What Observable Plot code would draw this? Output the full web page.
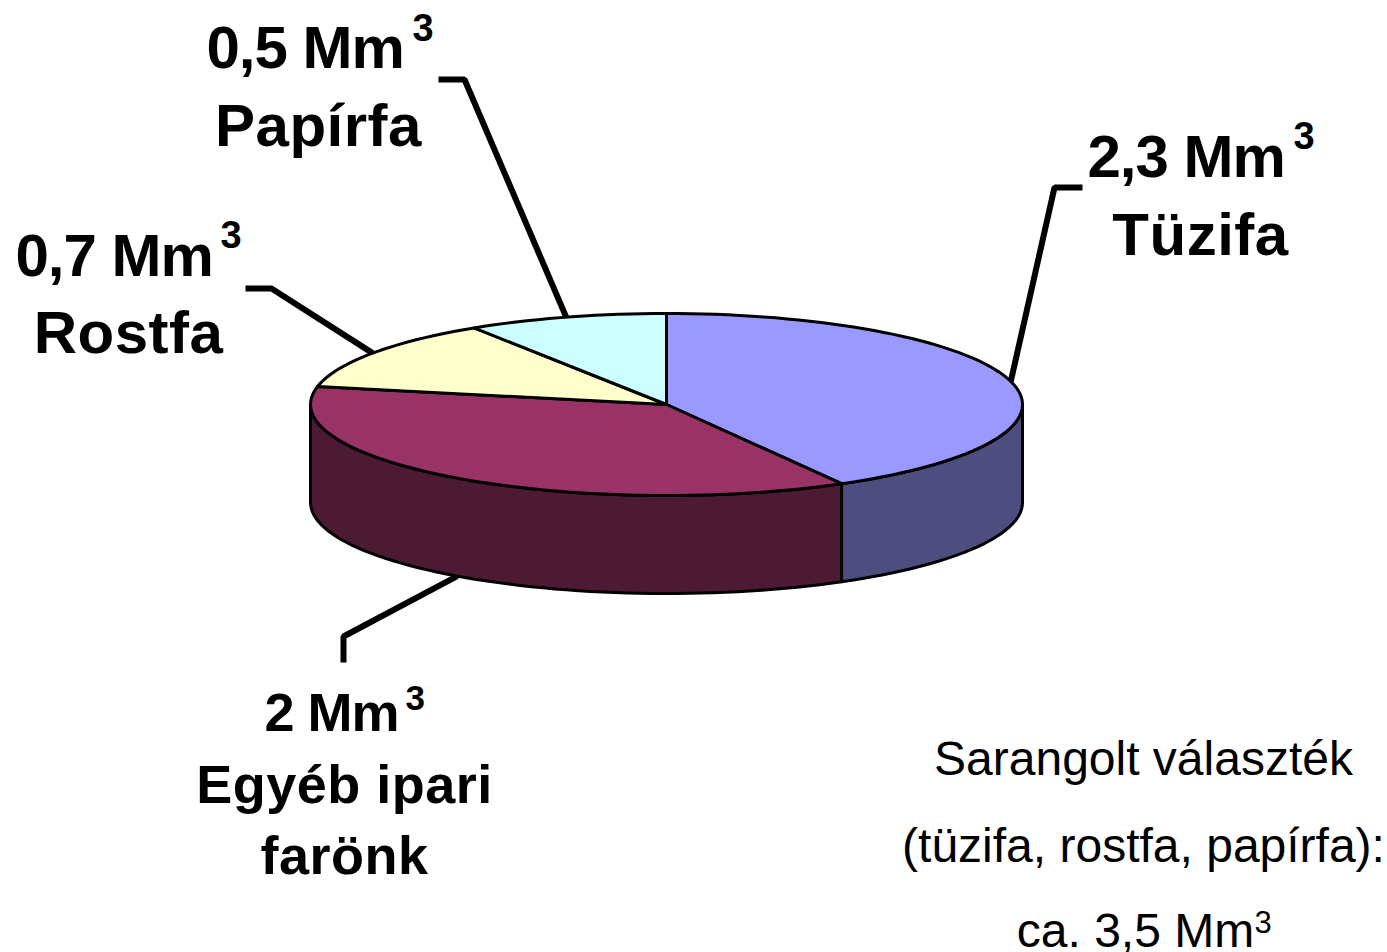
<!DOCTYPE html>
<html lang="hu">
<head>
<meta charset="utf-8">
<title>Sarangolt választék</title>
<script src="https://cdn.jsdelivr.net/npm/d3@7"></script>
<script src="https://cdn.jsdelivr.net/npm/@observablehq/plot@0.6"></script>
<style>
html,body{margin:0;padding:0;background:#fff;}
svg{display:block;}
.tight text{letter-spacing:-1px;}
.loose text{letter-spacing:0.5px;}
</style>
</head>
<body>
<div id="chart"></div>
<script>
// Data
const categories = ["Tüzifa", "Egyéb ipari farönk", "Rostfa", "Papírfa"];
const values = [2.3, 2, 0.7, 0.5];
const amountLabels = ["2,3 Mm", "2 Mm", "0,7 Mm", "0,5 Mm"];
const topColors = ["#9999ff", "#993366", "#ffffcc", "#ccffff"];
const sideColors = ["#4d4d80", "#4d1a33", "#80806a", "#668080"];
const captionLines = ["Sarangolt választék", "(tüzifa, rostfa, papírfa):", "ca. 3,5 Mm"];

// Layout of the tilted pie, in pixel-like scale units
const cx = 666, cy = 404, rx = 356, ry = 91, depth = 98;
const rad = (deg) => deg * Math.PI / 180;
const rim = (deg, drop = 0) => ({x: cx + rx * Math.sin(rad(deg)), y: cy - ry * Math.cos(rad(deg)) + drop});
const arc = (a, b, drop = 0) => {
  const n = Math.max(1, Math.ceil(Math.abs(b - a) / 2));
  return d3.range(n + 1).map((i) => rim(a + (b - a) * i / n, drop));
};

const total = d3.sum(values);
const cumulative = d3.cumsum(values);
const slices = categories.map((name, i) => ({
  name, i,
  a0: 360 * (cumulative[i] - values[i]) / total,
  a1: 360 * cumulative[i] / total
}));
slices.forEach((s) => (s.mid = (s.a0 + s.a1) / 2));

// Top faces
const topRows = slices.flatMap((s) =>
  [{x: cx, y: cy}, ...arc(s.a0, s.a1), {x: cx, y: cy}].map((p) => ({...p, key: s.name}))
);
// Visible rim walls (front half of the ellipse only)
const sideRows = slices.flatMap((s) => {
  const a = Math.max(s.a0, 90), b = Math.min(s.a1, 270);
  if (b <= a) return [];
  const top = arc(a, b), bottom = arc(b, a, depth);
  return [...top, ...bottom, top[0]].map((p) => ({...p, key: "side " + s.name}));
});

// Leader lines: label-side end, elbow, then the mid-angle point of the slice
const leaderLayout = [
  {start: [1082, 187], elbow: [1054, 187], drop: 0},
  {start: [343, 662], elbow: [343, 636], drop: depth},
  {start: [245, 288], elbow: [271, 288], drop: 0},
  {start: [438, 79], elbow: [464, 79], drop: 0}
];
const leaderRows = slices.flatMap((s, i) => {
  const l = leaderLayout[i];
  return [
    {x: l.start[0], y: l.start[1], key: s.name},
    {x: l.elbow[0], y: l.elbow[1], key: s.name},
    {...rim(s.mid, l.drop), key: s.name}
  ];
});

// Text placement
const amountLayout = [
  {x: 1087, y: 176, supX: 1293, supY: 148, size: 60},
  {x: 264, y: 730, supX: 405, supY: 709, size: 54},
  {x: 15, y: 275, supX: 220, supY: 247, size: 60},
  {x: 206, y: 67, supX: 412, supY: 40, size: 60}
];
const nameLayout = [
  {text: "Tüzifa", x: 1200, y: 254, size: 60},
  {text: "Egyéb ipari", x: 344, y: 802, size: 54},
  {text: "farönk", x: 344, y: 873, size: 54},
  {text: "Rostfa", x: 128, y: 352, size: 60},
  {text: "Papírfa", x: 318, y: 145, size: 60}
];
const captionLayout = [
  {x: 1143, y: 774}, {x: 1143, y: 861}, {x: 1135, y: 946}
];

const font = "'Liberation Sans', Arial, sans-serif";
const amounts = amountLabels.map((text, i) => ({text, ...amountLayout[i]}));
const captions = captionLines.map((text, i) => ({text, ...captionLayout[i]}));

const textMark = (rows, size, weight, anchor, xKey = "x", yKey = "y", text = "text", className) =>
  Plot.text(rows, {
    x: xKey, y: yKey, text,
    fontSize: size, fontWeight: weight, fontFamily: font,
    textAnchor: anchor, lineAnchor: "bottom", fill: "#000", className
  });

const chart = Plot.plot({
  width: 1387,
  height: 952,
  margin: 0,
  style: {background: "#fff", fontFamily: font},
  x: {domain: [0, 1387], range: [0, 1387], axis: null},
  y: {domain: [0, 952], range: [0, 952], axis: null},
  color: {
    domain: [...categories, ...categories.map((c) => "side " + c)],
    range: [...topColors, ...sideColors]
  },
  marks: [
    Plot.line(leaderRows, {x: "x", y: "y", z: "key", stroke: "#000", strokeWidth: 6, strokeLinejoin: "miter", strokeLinecap: "butt"}),
    Plot.line(sideRows, {x: "x", y: "y", z: "key", fill: "key", stroke: "#000", strokeWidth: 3, strokeLinejoin: "round"}),
    Plot.line(topRows, {x: "x", y: "y", z: "key", fill: "key", stroke: "#000", strokeWidth: 3, strokeLinejoin: "round"}),
    textMark(amounts.filter((d) => d.size === 60), 60, "bold", "start", "x", "y", "text", "tight"),
    textMark(amounts.filter((d) => d.size === 54), 54, "bold", "start", "x", "y", "text", "tight"),
    textMark(amounts.filter((d) => d.size === 60), 38, "bold", "start", "supX", "supY", () => "3"),
    textMark(amounts.filter((d) => d.size === 54), 35, "bold", "start", "supX", "supY", () => "3"),
    textMark(nameLayout.filter((d) => d.size === 60), 60, "bold", "middle", "x", "y", "text", "loose"),
    textMark(nameLayout.filter((d) => d.size === 54), 54, "bold", "middle", "x", "y", "text", "loose"),
    textMark(captions, 48, "normal", "middle"),
    Plot.text(["3"], {x: [1254], y: [932], text: (d) => d, fontSize: 31, fontFamily: font, textAnchor: "start", lineAnchor: "bottom", fill: "#000"})
  ]
});
document.getElementById("chart").append(chart);
</script>
</body>
</html>
